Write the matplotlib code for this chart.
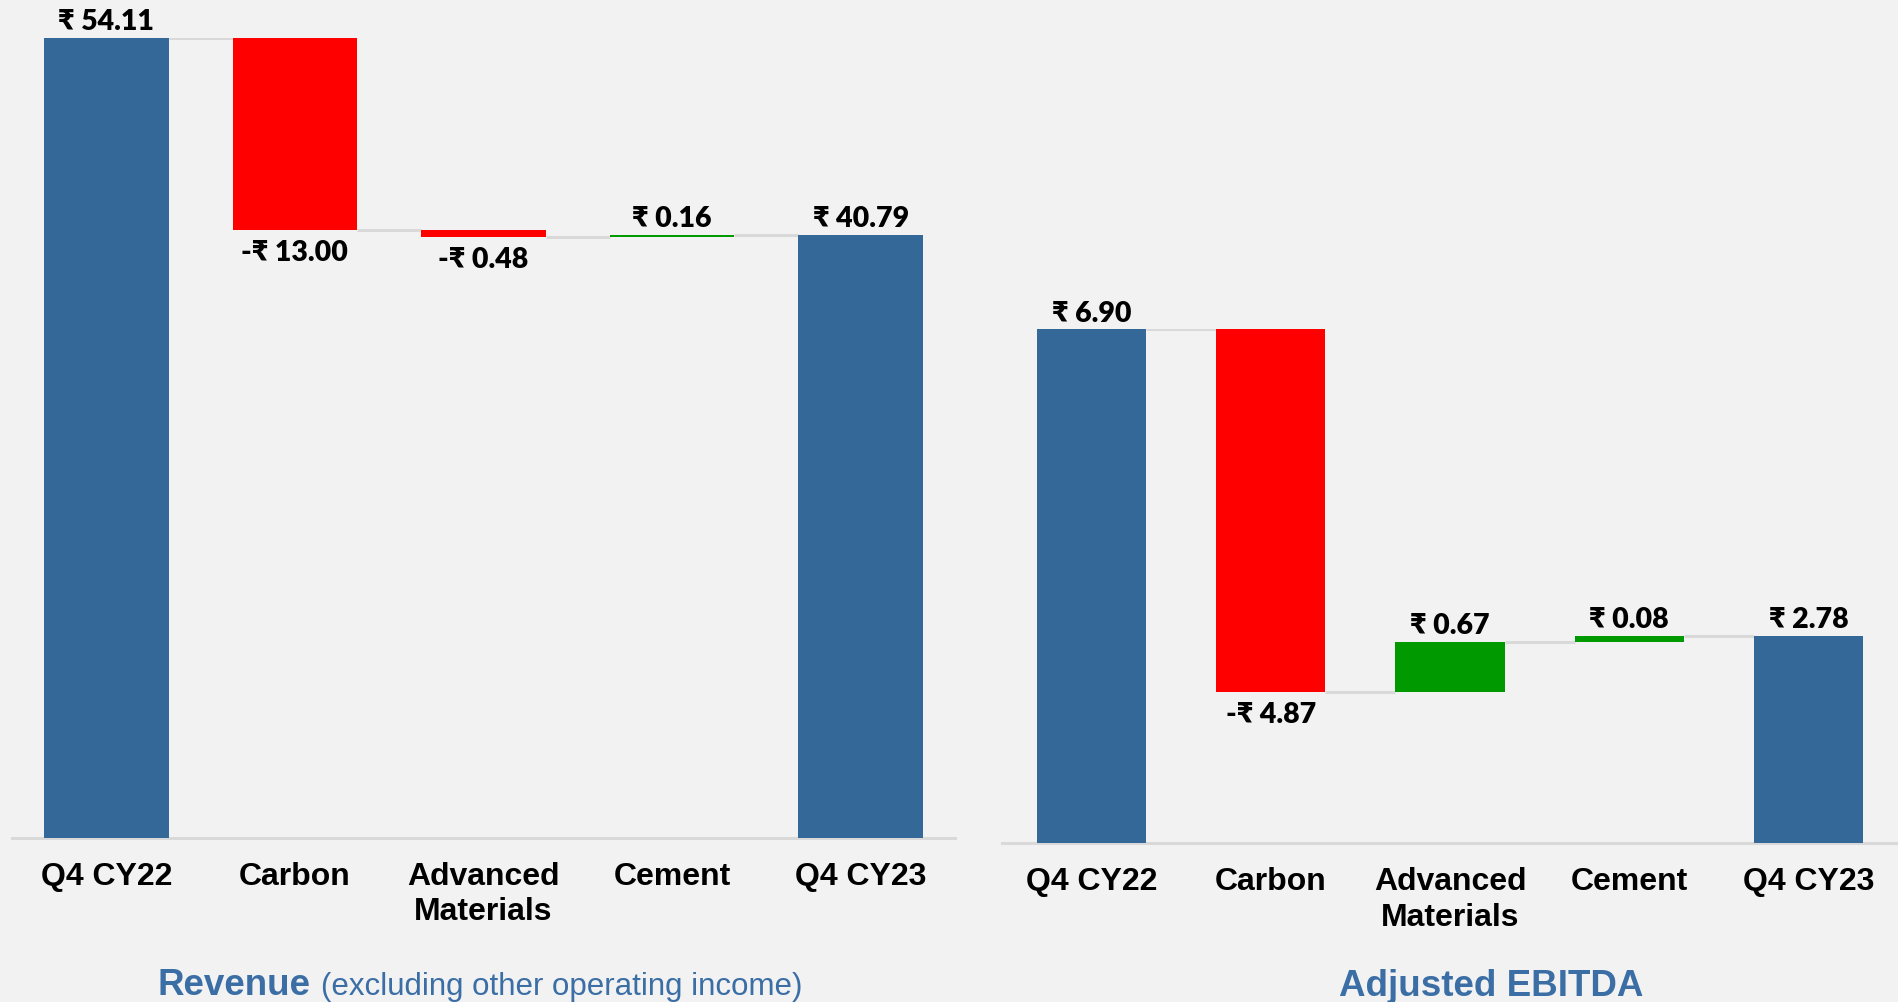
import matplotlib
matplotlib.use("Agg")
import matplotlib.pyplot as plt

categories = ["Q4 CY22", "Carbon", "Advanced\nMaterials", "Cement", "Q4 CY23"]
revenue_values = [54.11, -13.00, -0.48, 0.16, 40.79]
ebitda_values = [6.90, -4.87, 0.67, 0.08, 2.78]

BG = "#F2F2F2"
BLUE = "#346899"
RED = "#FF0000"
GREEN = "#009900"
GRID = "#D9D9D9"
TITLE_BLUE = "#3A6EA5"

plt.rcParams["font.family"] = ["Liberation Sans", "DejaVu Sans"]
VALUE_FONT = ["Lato", "DejaVu Sans"]

W, H = 1898, 1002
fig = plt.figure(figsize=(W / 100, H / 100), dpi=100)
fig.patch.set_facecolor(BG)


def px_axes(x0, x1, y_top, y_bottom):
    return fig.add_axes([x0 / W, 1 - y_bottom / H, (x1 - x0) / W, (y_bottom - y_top) / H])


def fmt(v):
    return ("-₹ %.2f" % abs(v)) if v < 0 else ("₹ %.2f" % v)


def waterfall(ax, values, width, pad):
    n = len(values)
    bottoms, heights, colors, levels = [], [], [], []
    running = 0.0
    for i, v in enumerate(values):
        if i == 0 or i == n - 1:
            bottoms.append(0)
            heights.append(v)
            colors.append(BLUE)
            running = v
        else:
            if v < 0:
                bottoms.append(running + v)
                colors.append(RED)
            else:
                bottoms.append(running)
                colors.append(GREEN)
            heights.append(abs(v))
            running += v
        levels.append(running)

    xs = list(range(n))
    ax.bar(xs, heights, bottom=bottoms, width=width, color=colors, zorder=3)

    # connector lines
    for i in range(n - 1):
        ax.plot([i + width / 2, i + 1 - width / 2], [levels[i], levels[i]],
                color=GRID, lw=2.2, zorder=2, solid_capstyle="butt")

    # value labels
    for i, v in enumerate(values):
        if v < 0:
            ax.annotate(fmt(v), (i, bottoms[i]), xytext=(0, -7.5), textcoords="offset points",
                        ha="center", va="top", fontsize=20.5, fontweight="heavy",
                        family=VALUE_FONT, color="black", annotation_clip=False)
        else:
            ax.annotate(fmt(v), (i, bottoms[i] + heights[i]), xytext=(0, 5.5),
                        textcoords="offset points", ha="center", va="baseline",
                        fontsize=20.5, fontweight="heavy", family=VALUE_FONT,
                        color="black", annotation_clip=False)

    ax.set_xlim(-0.5, n - 0.5)
    ax.set_ylim(0, max(values))
    ax.set_facecolor(BG)
    for s in ["top", "right", "left"]:
        ax.spines[s].set_visible(False)
    ax.spines["bottom"].set_color(GRID)
    ax.spines["bottom"].set_linewidth(2.2)
    ax.set_yticks([])
    ax.set_xticks(xs)
    ax.set_xticklabels(categories, fontsize=23, fontweight="bold", linespacing=1.25)
    ax.tick_params(axis="x", length=0, pad=pad)


ax1 = px_axes(12, 955, 37.5, 838)
waterfall(ax1, revenue_values, 0.66, 17)

ax2 = px_axes(1002, 1898, 329.3, 842.5)
waterfall(ax2, ebitda_values, 0.61, 17.5)

# chart titles
fig.text(157 / W, 1 - 995 / H, "Revenue", ha="left", va="baseline",
         fontsize=26.5, fontweight="bold", color=TITLE_BLUE)
fig.text(321 / W, 1 - 995 / H, "(excluding other operating income)", ha="left",
         va="baseline", fontsize=22.5, color=TITLE_BLUE)
fig.text(1491 / W, 1 - 996 / H, "Adjusted EBITDA", ha="center", va="baseline",
         fontsize=26.5, fontweight="bold", color=TITLE_BLUE)

fig.savefig("out.png", dpi=100, facecolor=BG)
